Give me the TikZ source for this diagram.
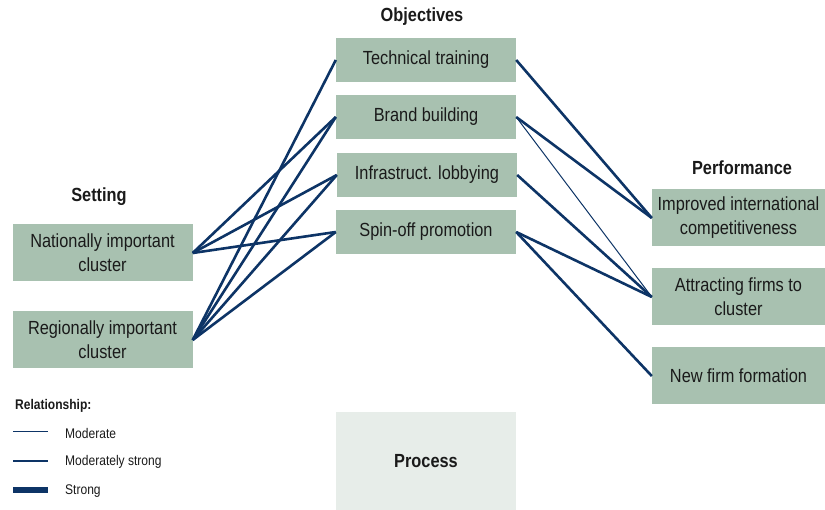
\documentclass[tikz,border=0pt]{standalone}
\usepackage{fontspec}
\setmainfont{Liberation Sans}[FakeStretch=0.86]
\usetikzlibrary{positioning}
\definecolor{navy}{HTML}{0D3466}
\definecolor{sage}{HTML}{A8C1B0}
\definecolor{pale}{HTML}{E7EDE9}
\definecolor{ink}{HTML}{1A1A1A}

\begin{document}
\begin{tikzpicture}[x=1pt, y=-1pt,
  box/.style={fill=sage, text=ink, minimum width=180pt, inner sep=0pt, align=center,
    font=\fontsize{19}{24}\selectfont},
  objbox/.style={box, minimum height=44pt},
  setbox/.style={box, minimum height=57pt},
  perfbox/.style={box, minimum width=173pt, minimum height=57pt},
  head/.style={text=ink, font=\bfseries\fontsize{19}{22}\selectfont},
  keytext/.style={text=ink, anchor=west, inner sep=0pt, font=\fontsize{14}{16}\selectfont},
  modline/.style={draw=navy, line width=1pt},
  msline/.style={draw=navy, line width=2.6pt},
  strongline/.style={draw=navy, line width=5pt},
]
\useasboundingbox (0,0) rectangle (825,510);

% headings
\node[head] (objhead) at (422,17) {Objectives};
\node[head] (sethead) at (99,197) {Setting};
\node[head] (perfhead) at (742,168) {Performance};

% setting
\node[setbox] (national) at (102.5,253) {Nationally important\\cluster};
\node[setbox] (regional) at (102.5,340) {Regionally important\\cluster};

% objectives
\node[objbox] (training) at (426,60) {Technical training};
\node[objbox] (brand) at (426,117) {Brand building};
\node[objbox] (lobby) at (427,175) {Infrastruct. lobbying};
\node[objbox] (spinoff) at (426,232) {Spin-off promotion};

% performance
\node[perfbox] (compete) at (738.5,218) {Improved international\\competitiveness};
\node[perfbox] (attract) at (738.5,297) {Attracting firms to\\cluster};
\node[perfbox] (newfirm) at (738.5,376) {New firm formation};

\node[box, fill=pale, minimum height=98pt, font=\bfseries\fontsize{19}{22}\selectfont] (process) at (426,461) {Process};

% setting -> objectives
\draw[msline] (national.east) -- (brand.west);
\draw[msline] (national.east) -- (lobby.west);
\draw[msline] (national.east) -- (spinoff.west);
\draw[msline] (regional.east) -- (training.west);
\draw[msline] (regional.east) -- (brand.west);
\draw[msline] (regional.east) -- (lobby.west);
\draw[msline] (regional.east) -- (spinoff.west);

% objectives -> performance
\draw[msline] (training.east) -- (compete.west);
\draw[msline] (brand.east) -- (compete.west);
\draw[modline] (brand.east) -- (attract.west);
\draw[msline] (lobby.east) -- (attract.west);
\draw[msline] (spinoff.east) -- (attract.west);
\draw[msline] (spinoff.east) -- (newfirm.west);

% legend
\node[keytext, font=\bfseries\fontsize{14}{16}\selectfont] (relhead) at (15,406) {Relationship:};
\coordinate (m1) at (13,432);
\coordinate (m2) at (48,432);
\coordinate (s1) at (13,461);
\coordinate (s2) at (48,461);
\coordinate (t1) at (13,490);
\coordinate (t2) at (48,490);
\draw[modline] (m1) -- (m2);
\draw[msline] (s1) -- (s2);
\draw[strongline] (t1) -- (t2);
\node[keytext] (modtext) at (65,433) {Moderate};
\node[keytext] (mstext) at (65,462) {Moderately strong};
\node[keytext] (strongtext) at (65,491) {Strong};
\end{tikzpicture}
\end{document}
